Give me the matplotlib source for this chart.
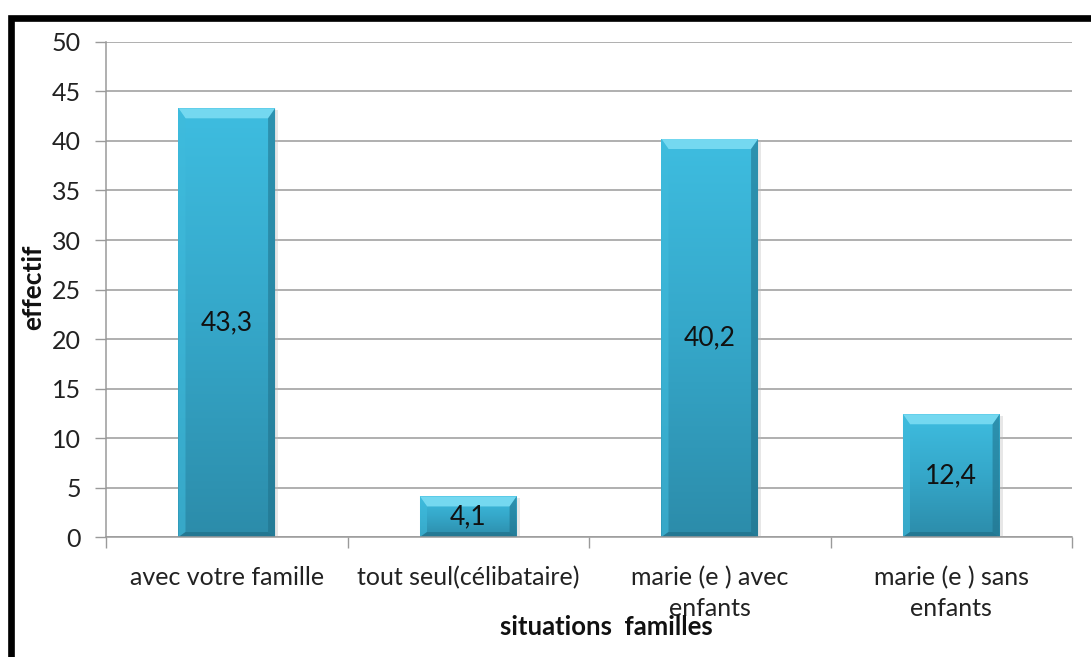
import matplotlib.pyplot as plt
import numpy as np
from matplotlib.patches import Polygon, Rectangle
from matplotlib.colors import LinearSegmentedColormap

savefile = "out.png"

categories = ["avec votre famille", "tout seul(célibataire)",
              "marie (e ) avec\nenfants", "marie (e ) sans\nenfants"]
values = [43.3, 4.1, 40.2, 12.4]
value_labels = ["43,3", "4,1", "40,2", "12,4"]
yticks = [0, 5, 10, 15, 20, 25, 30, 35, 40, 45, 50]

plt.rcParams["font.family"] = ["Lato", "DejaVu Sans"]

fig = plt.figure(figsize=(10.91, 6.57), dpi=100)
ax = fig.add_axes([0.0972, 0.1826, 0.8854, 0.7535])

x = np.arange(len(categories))
width = 0.4
bars = ax.bar(x, values, width=width, color="#38B2D6", edgecolor="none", zorder=2)

ax.set_xlim(-0.5, len(categories) - 0.5)
ax.set_ylim(0, 50)
ax.set_yticks(yticks)
ax.set_yticklabels([str(v) for v in yticks], fontsize=18, color="#222222")
ax.set_xticks(x)
ax.set_xticklabels(categories, fontsize=18, color="#222222", linespacing=1.38)
ax.set_xticks(np.arange(len(categories) + 1) - 0.5, minor=True)
ax.tick_params(axis="x", which="major", length=0, pad=21)
ax.tick_params(axis="x", which="minor", length=8, color="#9A9A9A", width=1)
ax.tick_params(axis="y", length=8, color="#9A9A9A", width=1, pad=10)

ax.yaxis.grid(True, color="#9A9A9A", linewidth=1.1, zorder=0)
ax.set_axisbelow(True)
for side in ["top", "right"]:
    ax.spines[side].set_visible(False)
for side in ["left", "bottom"]:
    ax.spines[side].set_color("#9A9A9A")
    ax.spines[side].set_linewidth(1.1)

# vertical gradient + bevel on each bar
cmap = LinearSegmentedColormap.from_list("bar", ["#2C8CAA", "#35A7C9", "#3EBDE0"])
grad = np.linspace(0, 1, 256).reshape(-1, 1)
fig.canvas.draw()
px_x = ax.transData.transform((1, 0))[0] - ax.transData.transform((0, 0))[0]
px_y = ax.transData.transform((0, 1))[1] - ax.transData.transform((0, 0))[1]
for b in bars:
    x0, y0 = b.get_x(), b.get_y()
    w, h = b.get_width(), b.get_height()
    im = ax.imshow(grad, cmap=cmap, aspect="auto", origin="lower",
                   extent=(x0, x0 + w, y0, y0 + h), zorder=2.1)
    im.set_clip_path(b)
    bx = 7 / px_x
    bt = 10 / px_y
    bs = 5 / px_y
    x1, y1 = x0 + w, y0 + h
    # top, left, right, bottom bevel faces
    ax.add_patch(Polygon([(x0, y1), (x1, y1), (x1 - bx, y1 - bt), (x0 + bx, y1 - bt)],
                         closed=True, facecolor="#74D8F0", edgecolor="none", zorder=2.2))
    ax.add_patch(Polygon([(x0, y1), (x0 + bx, y1 - bt), (x0 + bx, y0 + bs), (x0, y0)],
                         closed=True, facecolor="#3FBBDC", edgecolor="none", alpha=0.6, zorder=2.2))
    ax.add_patch(Polygon([(x1, y1), (x1 - bx, y1 - bt), (x1 - bx, y0 + bs), (x1, y0)],
                         closed=True, facecolor="#1F6F88", edgecolor="none", alpha=0.55, zorder=2.2))
    ax.add_patch(Polygon([(x0, y0), (x1, y0), (x1 - bx, y0 + bs), (x0 + bx, y0 + bs)],
                         closed=True, facecolor="#1E6A82", edgecolor="none", alpha=0.6, zorder=2.2))
    ax.add_patch(Rectangle((x1, y0), 3 / px_x, h - 2 / px_y, facecolor="#BBBBBB",
                           edgecolor="none", alpha=0.35, zorder=1.9))

for xi, v, lab in zip(x, values, value_labels):
    ax.text(xi, v / 2, lab, ha="center", va="center", fontsize=19, color="#111111", zorder=3)

fig.text(0.0305, 0.562, "effectif", rotation=90, ha="center", va="center",
         fontsize=19, fontweight="bold", color="#111111")
fig.text(0.556, 0.045, "situations  familles", ha="center", va="center",
         fontsize=18.5, fontweight="bold", color="#111111")

# thick frame around the chart area (right and bottom sides run off the image)
fig.add_artist(Rectangle((0.0101, -0.05), 1.2, 1.023, transform=fig.transFigure,
                         fill=False, edgecolor="black", linewidth=4.8))

plt.savefig(savefile, dpi=100)
print(f"Saved to {savefile}")
